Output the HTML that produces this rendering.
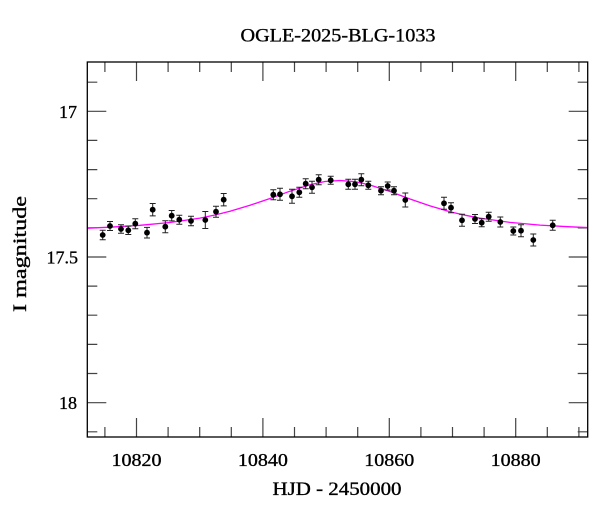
<!DOCTYPE html>
<html>
<head>
<meta charset="utf-8">
<style>
html,body{margin:0;padding:0;background:#fff;}
svg{display:block;}
text{font-family:"Liberation Serif","DejaVu Serif",serif;fill:#000;stroke:#000;stroke-width:0.35;}
</style>
</head>
<body>
<svg width="600" height="512" viewBox="0 0 600 512" xmlns="http://www.w3.org/2000/svg">
<rect x="0" y="0" width="600" height="512" fill="#fff"/>
<defs>
<clipPath id="pc"><rect x="87.5" y="62" width="500" height="375"/></clipPath>
</defs>

<text x="338" y="41.5" font-size="19" text-anchor="middle" textLength="195" lengthAdjust="spacingAndGlyphs">OGLE-2025-BLG-1033</text>

<g stroke="#444" stroke-width="1.2" fill="none">
<path d="M104.9,437v-10 M136.5,437v-19 M168.1,437v-10 M199.7,437v-10 M231.3,437v-10 M262.9,437v-19 M294.5,437v-10 M326.1,437v-10 M357.7,437v-10 M389.3,437v-19 M420.9,437v-10 M452.5,437v-10 M484.1,437v-10 M515.7,437v-19 M547.3,437v-10 M578.9,437v-10"/>
<path d="M104.9,62v10 M136.5,62v19 M168.1,62v10 M199.7,62v10 M231.3,62v10 M262.9,62v19 M294.5,62v10 M326.1,62v10 M357.7,62v10 M389.3,62v19 M420.9,62v10 M452.5,62v10 M484.1,62v10 M515.7,62v19 M547.3,62v10 M578.9,62v10"/>
<path d="M87.3,82.2h10 M87.3,111.3h19 M87.3,140.4h10 M87.3,169.6h10 M87.3,198.7h10 M87.3,227.9h10 M87.3,257h19 M87.3,286.1h10 M87.3,315.2h10 M87.3,344.4h10 M87.3,373.5h10 M87.3,402.7h19 M87.3,431.8h10"/>
<path d="M587.7,82.2h-10 M587.7,111.3h-19 M587.7,140.4h-10 M587.7,169.6h-10 M587.7,198.7h-10 M587.7,227.9h-10 M587.7,257h-19 M587.7,286.1h-10 M587.7,315.2h-10 M587.7,344.4h-10 M587.7,373.5h-10 M587.7,402.7h-19 M587.7,431.8h-10"/>
</g>

<polyline clip-path="url(#pc)" fill="none" stroke="#ff00ff" stroke-width="1.3"
points="87,228.2 110,227.2 140,225.3 170,222.5 200,218.1 215,215.0 230,211.3 250,205.3 270,198.5 290,191.2 310,184.8 325,181.5 340,180.5 355,181.6 370,185.0 390,191.5 410,199.0 430,205.9 450,211.7 465,215.2 480,218.1 510,222.4 540,225.1 570,226.8 588,227.6"/>

<g stroke="#222" stroke-width="1" fill="none">
<path d="M102.7,230.3v9.4 M99.7,230.3h6 M99.7,239.7h6 M110,221.5v9 M107,221.5h6 M107,230.5h6 M121,224.7v8.6 M118,224.7h6 M118,233.3h6 M128.3,226.1v8.4 M125.3,226.1h6 M125.3,234.5h6 M135.3,218.7v10 M132.3,218.7h6 M132.3,228.7h6 M147,227.4v10.6 M144,227.4h6 M144,238h6 M152.7,203.5v12.4 M149.7,203.5h6 M149.7,215.9h6 M165.3,220.7v12 M162.3,220.7h6 M162.3,232.7h6 M171.7,210.5v10.4 M168.7,210.5h6 M168.7,220.9h6 M179.3,215.2v9 M176.3,215.2h6 M176.3,224.2h6 M191,216.2v9.6 M188,216.2h6 M188,225.8h6 M205.3,211.5v17 M202.3,211.5h6 M202.3,228.5h6 M216,206.2v11 M213,206.2h6 M213,217.2h6 M223.7,193.5v12.4 M220.7,193.5h6 M220.7,205.9h6 M273.3,189.7v10 M270.3,189.7h6 M270.3,199.7h6 M280,188.3v12 M277,188.3h6 M277,200.3h6 M292,189.3v14 M289,189.3h6 M289,203.3h6 M299.3,187.3v10 M296.3,187.3h6 M296.3,197.3h6 M305.7,178.7v10 M302.7,178.7h6 M302.7,188.7h6 M312,181.3v12 M309,181.3h6 M309,193.3h6 M318.7,174.7v10 M315.7,174.7h6 M315.7,184.7h6 M330.7,176.3v8 M327.7,176.3h6 M327.7,184.3h6 M348.3,179.3v10 M345.3,179.3h6 M345.3,189.3h6 M355,179.3v10 M352,179.3h6 M352,189.3h6 M361.3,173.7v12 M358.3,173.7h6 M358.3,185.7h6 M368.3,181.3v8 M365.3,181.3h6 M365.3,189.3h6 M381,186.7v8 M378,186.7h6 M378,194.7h6 M387.7,182v8 M384.7,182h6 M384.7,190h6 M394,186.7v8 M391,186.7h6 M391,194.7h6 M405.3,193v14 M402.3,193h6 M402.3,207h6 M444,197.3v12 M441,197.3h6 M441,209.3h6 M451,202.7v10 M448,202.7h6 M448,212.7h6 M462,214.3v12 M459,214.3h6 M459,226.3h6 M475,214.5v9 M472,214.5h6 M472,223.5h6 M481.7,218.7v8 M478.7,218.7h6 M478.7,226.7h6 M488.7,212.2v9 M485.7,212.2h6 M485.7,221.2h6 M500.3,217v10 M497.3,217h6 M497.3,227h6 M513.3,227v8 M510.3,227h6 M510.3,235h6 M521,224.7v12 M518,224.7h6 M518,236.7h6 M533.3,234v12 M530.3,234h6 M530.3,246h6 M552.7,220.3v10 M549.7,220.3h6 M549.7,230.3h6"/>
</g>

<g fill="#000">
<circle cx="102.7" cy="235" r="2.9"/>
<circle cx="110" cy="226" r="2.9"/>
<circle cx="121" cy="229" r="2.9"/>
<circle cx="128.3" cy="230.3" r="2.9"/>
<circle cx="135.3" cy="223.7" r="2.9"/>
<circle cx="147" cy="232.7" r="2.9"/>
<circle cx="152.7" cy="209.7" r="2.9"/>
<circle cx="165.3" cy="226.7" r="2.9"/>
<circle cx="171.7" cy="215.7" r="2.9"/>
<circle cx="179.3" cy="219.7" r="2.9"/>
<circle cx="191" cy="221" r="2.9"/>
<circle cx="205.3" cy="220" r="2.9"/>
<circle cx="216" cy="211.7" r="2.9"/>
<circle cx="223.7" cy="199.7" r="2.9"/>
<circle cx="273.3" cy="194.7" r="2.9"/>
<circle cx="280" cy="194.3" r="2.9"/>
<circle cx="292" cy="196.3" r="2.9"/>
<circle cx="299.3" cy="192.3" r="2.9"/>
<circle cx="305.7" cy="183.7" r="2.9"/>
<circle cx="312" cy="187.3" r="2.9"/>
<circle cx="318.7" cy="179.7" r="2.9"/>
<circle cx="330.7" cy="180.3" r="2.9"/>
<circle cx="348.3" cy="184.3" r="2.9"/>
<circle cx="355" cy="184.3" r="2.9"/>
<circle cx="361.3" cy="179.7" r="2.9"/>
<circle cx="368.3" cy="185.3" r="2.9"/>
<circle cx="381" cy="190.7" r="2.9"/>
<circle cx="387.7" cy="186" r="2.9"/>
<circle cx="394" cy="190.7" r="2.9"/>
<circle cx="405.3" cy="200" r="2.9"/>
<circle cx="444" cy="203.3" r="2.9"/>
<circle cx="451" cy="207.7" r="2.9"/>
<circle cx="462" cy="220.3" r="2.9"/>
<circle cx="475" cy="219" r="2.9"/>
<circle cx="481.7" cy="222.7" r="2.9"/>
<circle cx="488.7" cy="216.7" r="2.9"/>
<circle cx="500.3" cy="222" r="2.9"/>
<circle cx="513.3" cy="231" r="2.9"/>
<circle cx="521" cy="230.7" r="2.9"/>
<circle cx="533.3" cy="240" r="2.9"/>
<circle cx="552.7" cy="225.3" r="2.9"/>
</g>

<rect x="87.3" y="62" width="500.4" height="375" fill="none" stroke="#000" stroke-width="1.3"/>

<g font-size="18" text-anchor="end">
<text x="77" y="118">17</text>
<text x="78" y="263.5">17.5</text>
<text x="77" y="409">18</text>
</g>

<g font-size="18" text-anchor="middle">
<text x="136.5" y="466" textLength="50" lengthAdjust="spacingAndGlyphs">10820</text>
<text x="262.9" y="466" textLength="50" lengthAdjust="spacingAndGlyphs">10840</text>
<text x="389.3" y="466" textLength="50" lengthAdjust="spacingAndGlyphs">10860</text>
<text x="515.7" y="466" textLength="50" lengthAdjust="spacingAndGlyphs">10880</text>
</g>

<text x="337" y="495" font-size="19" text-anchor="middle" textLength="129" lengthAdjust="spacingAndGlyphs">HJD - 2450000</text>
<text transform="translate(26,254) rotate(-90)" x="0" y="0" font-size="19" text-anchor="middle" textLength="116" lengthAdjust="spacingAndGlyphs">I magnitude</text>
</svg>
</body>
</html>
